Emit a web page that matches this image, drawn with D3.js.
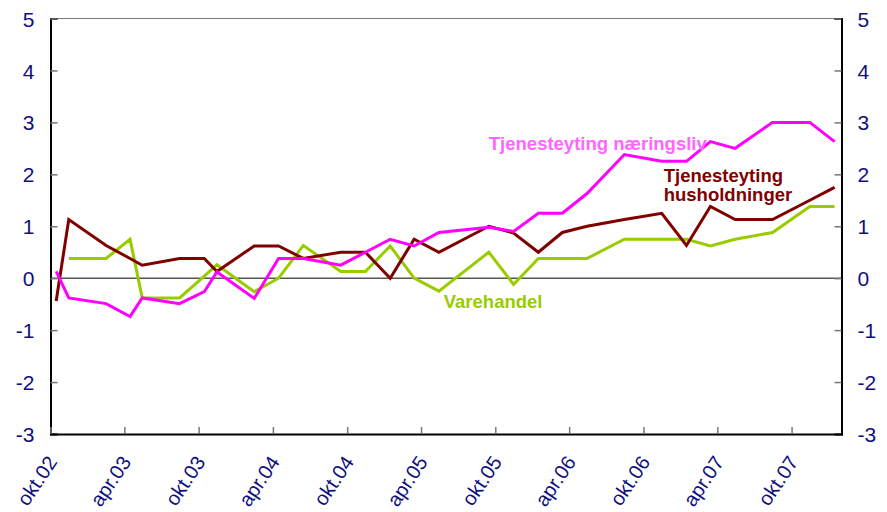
<!DOCTYPE html>
<html>
<head>
<meta charset="utf-8">
<script src="https://cdn.jsdelivr.net/npm/d3@7"></script>
<style>
  body { margin: 0; background: #fff; }
  svg { display: block; font-family: "Liberation Sans", Arial, sans-serif; }
</style>
</head>
<body>
<script>
// Datoer for målingene (år, måned 1-12), plottes midt i måneden
var dates = [
  [2002,10],[2002,11],[2003,2],[2003,4],[2003,5],[2003,8],[2003,10],[2003,11],
  [2004,2],[2004,4],[2004,6],[2004,9],[2004,11],[2005,1],[2005,3],[2005,5],
  [2005,9],[2005,11],[2006,1],[2006,3],[2006,5],[2006,8],[2006,11],[2007,1],
  [2007,3],[2007,5],[2007,8],[2007,11],[2008,1]
];

var husholdninger = [
  -0.44, 1.13, 0.63, 0.38, 0.25, 0.38, 0.38, 0.13,
  0.62, 0.62, 0.38, 0.5, 0.5, 0, 0.75, 0.5,
  1.0, 0.87, 0.5, 0.88, 1.0, 1.13, 1.25, 0.63,
  1.38, 1.13, 1.13, 1.5, 1.75
];

var naeringsliv = [
  0.13, -0.38, -0.49, -0.74, -0.38, -0.49, -0.26, 0.12,
  -0.39, 0.38, 0.38, 0.25, 0.5, 0.75, 0.62, 0.88,
  0.98, 0.9, 1.25, 1.25, 1.63, 2.38, 2.25, 2.25,
  2.63, 2.5, 3.0, 3.0, 2.63
];

var varehandel = [
  null, 0.38, 0.38, 0.75, -0.38, -0.38, 0.04, 0.26,
  -0.26, 0, 0.63, 0.13, 0.13, 0.62, 0, -0.25,
  0.5, -0.12, 0.38, 0.38, 0.38, 0.75, 0.75, 0.75,
  0.62, 0.75, 0.88, 1.38, 1.38
];

var yTicks = [-3, -2, -1, 0, 1, 2, 3, 4, 5];
var monthNames = ["jan", "feb", "mar", "apr", "mai", "jun", "jul", "aug", "sep", "okt", "nov", "des"];

var width = 887, height = 512;
var margin = {top: 18.5, right: 45.5, bottom: 78, left: 50.5};

var svg = d3.select("body").append("svg")
    .attr("width", width)
    .attr("height", height);

var x = d3.scaleTime()
    .domain([new Date(2002, 9, 1), new Date(2008, 1, 1)])
    .range([margin.left, width - margin.right]);

var y = d3.scaleLinear()
    .domain([-3, 5])
    .range([height - margin.bottom, margin.top]);

var toDate = d => new Date(d[0], d[1] - 1, 15);

// Rammen
svg.append("line")
    .attr("x1", margin.left).attr("x2", width - margin.right)
    .attr("y1", margin.top).attr("y2", margin.top)
    .attr("stroke", "#777").attr("stroke-width", 1.2);

// Nullinje
svg.append("line")
    .attr("x1", margin.left).attr("x2", width - margin.right)
    .attr("y1", y(0)).attr("y2", y(0))
    .attr("stroke", "#555").attr("stroke-width", 1.5);

// Venstre akse (vanlig bindestrek som minus)
var yLeft = d3.axisLeft(y).tickValues(yTicks).tickSize(-7).tickPadding(16).tickFormat(d => String(d));
var gl = svg.append("g")
    .attr("transform", `translate(${margin.left},0)`)
    .call(yLeft);

// Høyre akse
var yRight = d3.axisRight(y).tickValues(yTicks).tickSize(-7).tickPadding(16).tickFormat(d => String(d));
var gr = svg.append("g")
    .attr("transform", `translate(${width - margin.right},0)`)
    .call(yRight);

// X-akse med merker hver april og oktober
var xTickVals = d3.timeMonth.range(new Date(2002, 9, 1), new Date(2008, 1, 2))
    .filter(d => d.getMonth() === 3 || d.getMonth() === 9);
var xAxis = d3.axisBottom(x).tickValues(xTickVals).tickSize(-7)
    .tickFormat(d => monthNames[d.getMonth()] + "." + String(d.getFullYear()).slice(2));
var gx = svg.append("g")
    .attr("transform", `translate(0,${height - margin.bottom})`)
    .call(xAxis);

[gl, gr, gx].forEach(g => {
    g.select(".domain").attr("stroke", "#000").attr("stroke-width", 2);
    g.selectAll(".tick line").attr("stroke", "#777").attr("stroke-width", 1.5);
    g.selectAll("text")
        .attr("fill", "#101080")
        .style("font-size", "21px")
        .style("font-family", "'Liberation Sans', Arial, sans-serif");
});
gl.selectAll("text").attr("dy", "0.36em");
gr.selectAll("text").attr("dy", "0.36em");

gx.selectAll("text")
    .attr("text-anchor", "end")
    .attr("transform", "translate(7,28) rotate(-56)")
    .attr("x", 0).attr("y", 0).attr("dy", 0)
    .style("font-size", "20px");

// Linjer
var series = [
    {values: varehandel, color: "#99cc00"},
    {values: husholdninger, color: "#800000"},
    {values: naeringsliv, color: "#ff00ff"}
];

var line = d3.line()
    .defined(d => d.v !== null)
    .x(d => x(d.date))
    .y(d => y(d.v));

series.forEach(s => {
    var pts = dates.map((d, i) => ({date: toDate(d), v: s.values[i]}));
    svg.append("path")
        .datum(pts)
        .attr("fill", "none")
        .attr("stroke", s.color)
        .attr("stroke-width", 3)
        .attr("stroke-linejoin", "miter")
        .attr("d", line);
});

// Etiketter
var labels = [
    {text: ["Tjenesteyting næringsliv"], color: "#ff66ff", date: new Date(2005, 8, 15), v: 2.46},
    {text: ["Tjenesteyting", "husholdninger"], color: "#800000", date: new Date(2006, 10, 20), v: 1.85},
    {text: ["Varehandel"], color: "#99cc00", date: new Date(2005, 4, 27), v: -0.58}
];

labels.forEach(l => {
    var t = svg.append("text")
        .attr("x", x(l.date))
        .attr("y", y(l.v))
        .attr("fill", l.color)
        .style("font-size", "18.5px")
        .style("font-weight", "bold");
    l.text.forEach((s, i) => {
        t.append("tspan")
            .attr("x", x(l.date))
            .attr("dy", i === 0 ? 0 : 19)
            .text(s);
    });
});
</script>
</body>
</html>
